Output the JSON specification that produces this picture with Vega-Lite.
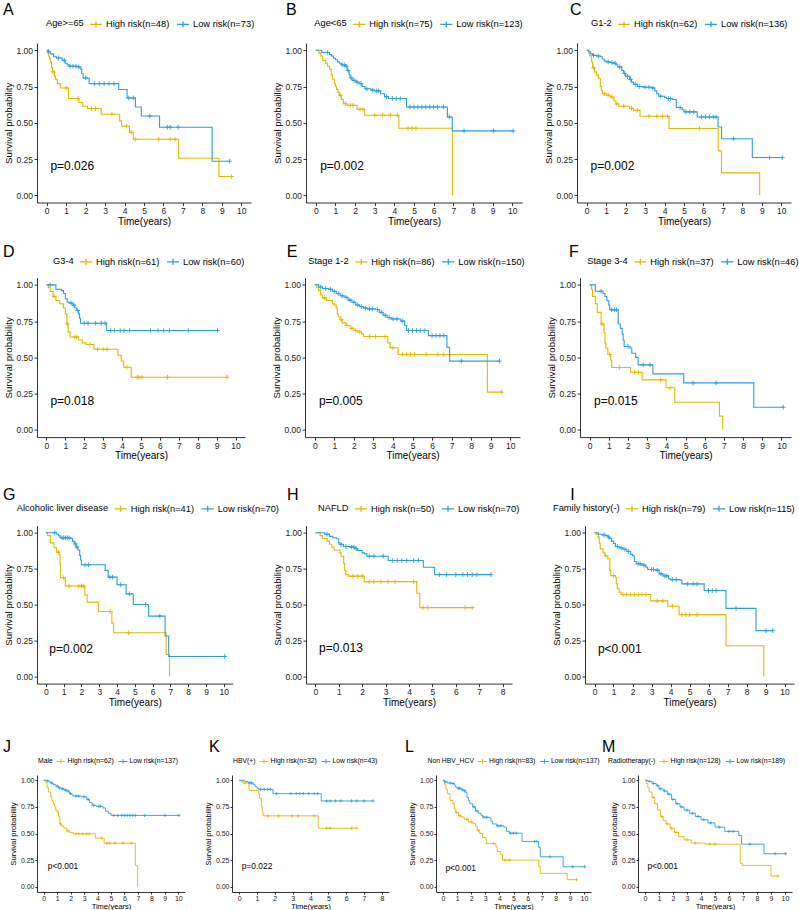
{
"$schema": "https://vega.github.io/schema/vega-lite/v6.json",
"background": "white",
"padding": {"left": 3, "top": 2, "right": 2, "bottom": 0},
"config": {
  "font": "Liberation Sans",
  "view": {"stroke": null},
  "axis": {"grid": false, "domainColor": "#000", "domainWidth": 0.8, "tickColor": "#000", "tickWidth": 0.8, "labelColor": "#1a1a1a", "titleColor": "#000", "titleFontWeight": "normal", "labelFontSize": 8.5, "tickSize": 3},
  "axisX": {"titleFontSize": 10, "labelPadding": 1, "titlePadding": 1},
  "axisY": {"titleFontSize": 9.7, "labelPadding": 1.5, "titlePadding": 2},
  "legend": {"orient": "none", "direction": "horizontal", "titleOrient": "left", "titleAnchor": "middle", "titleBaseline": "middle", "titleFontWeight": "normal", "labelLimit": 0, "titleLimit": 0, "padding": 0, "columnPadding": 4, "labelOffset": 3, "titlePadding": 5, "symbolStrokeWidth": 1.3, "symbolType": "M-1,0H1M0,-0.5V0.5", "symbolSize": 144, "titleColor": "#000", "labelColor": "#000", "labelFontSize": 9.3, "titleFontSize": 9.3},
  "title": {"anchor": "start", "frame": "group", "fontSize": 16, "fontWeight": "normal", "baseline": "alphabetic", "color": "#000"}
},
"datasets": {
"A": [
{"g":"H","t":0,"s":1},{"g":"H","t":0.05,"s":0.98},{"g":"H","t":0.1,"s":0.96},{"g":"H","t":0.15,"s":0.94},{"g":"H","t":0.2,"s":0.92},{"g":"H","t":0.25,"s":0.88},{"g":"H","t":0.3,"s":0.85},{"g":"H","t":0.33,"s":0.85,"c":1},{"g":"H","t":0.4,"s":0.82},{"g":"H","t":0.45,"s":0.8},{"g":"H","t":0.55,"s":0.77},{"g":"H","t":0.7,"s":0.74},{"g":"H","t":1.0,"s":0.74,"c":1},{"g":"H","t":1.12,"s":0.667},{"g":"H","t":1.6,"s":0.667,"c":1},{"g":"H","t":1.65,"s":0.64},{"g":"H","t":1.85,"s":0.614},{"g":"H","t":2.1,"s":0.598},{"g":"H","t":2.3,"s":0.598,"c":1},{"g":"H","t":2.5,"s":0.598,"c":1},{"g":"H","t":2.8,"s":0.559},{"g":"H","t":3.35,"s":0.559,"c":1},{"g":"H","t":3.75,"s":0.513},{"g":"H","t":3.85,"s":0.476},{"g":"H","t":4.1,"s":0.476,"c":1},{"g":"H","t":4.25,"s":0.434},{"g":"H","t":4.35,"s":0.434,"c":1},{"g":"H","t":4.45,"s":0.386},{"g":"H","t":4.55,"s":0.386,"c":1},{"g":"H","t":5.75,"s":0.386,"c":1},{"g":"H","t":6.35,"s":0.386,"c":1},{"g":"H","t":6.6,"s":0.386,"c":1},{"g":"H","t":6.78,"s":0.255},{"g":"H","t":8.85,"s":0.129},{"g":"H","t":9.5,"s":0.129,"c":1},
{"g":"L","t":0,"s":1},{"g":"L","t":0.1,"s":0.99,"c":1},{"g":"L","t":0.2,"s":0.975},{"g":"L","t":0.35,"s":0.955},{"g":"L","t":0.5,"s":0.947},{"g":"L","t":0.6,"s":0.947,"c":1},{"g":"L","t":0.8,"s":0.93},{"g":"L","t":0.9,"s":0.93,"c":1},{"g":"L","t":0.95,"s":0.91},{"g":"L","t":1.05,"s":0.9},{"g":"L","t":1.15,"s":0.89},{"g":"L","t":1.2,"s":0.89,"c":1},{"g":"L","t":1.35,"s":0.89,"c":1},{"g":"L","t":1.5,"s":0.89,"c":1},{"g":"L","t":1.6,"s":0.885},{"g":"L","t":1.65,"s":0.885,"c":1},{"g":"L","t":1.75,"s":0.87},{"g":"L","t":1.8,"s":0.84},{"g":"L","t":1.87,"s":0.809},{"g":"L","t":2.0,"s":0.809,"c":1},{"g":"L","t":2.18,"s":0.77},{"g":"L","t":2.45,"s":0.77,"c":1},{"g":"L","t":2.7,"s":0.77,"c":1},{"g":"L","t":2.95,"s":0.77,"c":1},{"g":"L","t":3.2,"s":0.77,"c":1},{"g":"L","t":3.45,"s":0.77,"c":1},{"g":"L","t":3.7,"s":0.729},{"g":"L","t":4.13,"s":0.671},{"g":"L","t":4.22,"s":0.671,"c":1},{"g":"L","t":4.45,"s":0.671,"c":1},{"g":"L","t":4.56,"s":0.609},{"g":"L","t":4.86,"s":0.547},{"g":"L","t":5.3,"s":0.547,"c":1},{"g":"L","t":5.8,"s":0.469},{"g":"L","t":6.2,"s":0.469,"c":1},{"g":"L","t":6.35,"s":0.469,"c":1},{"g":"L","t":6.75,"s":0.469,"c":1},{"g":"L","t":8.5,"s":0.234},{"g":"L","t":9.4,"s":0.234,"c":1}
],
"B": [
{"g":"H","t":0,"s":1},{"g":"H","t":0.15,"s":0.98},{"g":"H","t":0.25,"s":0.96},{"g":"H","t":0.35,"s":0.93},{"g":"H","t":0.5,"s":0.91},{"g":"H","t":0.6,"s":0.89},{"g":"H","t":0.7,"s":0.87},{"g":"H","t":0.78,"s":0.83},{"g":"H","t":0.85,"s":0.8},{"g":"H","t":0.95,"s":0.77},{"g":"H","t":1.0,"s":0.752},{"g":"H","t":1.05,"s":0.73},{"g":"H","t":1.12,"s":0.71},{"g":"H","t":1.2,"s":0.69},{"g":"H","t":1.25,"s":0.69,"c":1},{"g":"H","t":1.3,"s":0.66},{"g":"H","t":1.4,"s":0.632},{"g":"H","t":1.5,"s":0.632,"c":1},{"g":"H","t":1.6,"s":0.62},{"g":"H","t":1.75,"s":0.62,"c":1},{"g":"H","t":1.9,"s":0.62,"c":1},{"g":"H","t":2.1,"s":0.593},{"g":"H","t":2.25,"s":0.593,"c":1},{"g":"H","t":2.4,"s":0.593,"c":1},{"g":"H","t":2.49,"s":0.552},{"g":"H","t":3.0,"s":0.552,"c":1},{"g":"H","t":3.4,"s":0.552,"c":1},{"g":"H","t":3.8,"s":0.552,"c":1},{"g":"H","t":4.15,"s":0.552,"c":1},{"g":"H","t":4.23,"s":0.462},{"g":"H","t":4.7,"s":0.462,"c":1},{"g":"H","t":4.9,"s":0.462,"c":1},{"g":"H","t":5.1,"s":0.462,"c":1},{"g":"H","t":6.96,"s":0},
{"g":"L","t":0,"s":1},{"g":"L","t":0.3,"s":0.985},{"g":"L","t":0.6,"s":0.985,"c":1},{"g":"L","t":0.7,"s":0.97},{"g":"L","t":0.8,"s":0.96},{"g":"L","t":0.9,"s":0.945},{"g":"L","t":1.0,"s":0.935},{"g":"L","t":1.1,"s":0.92},{"g":"L","t":1.2,"s":0.91},{"g":"L","t":1.3,"s":0.9},{"g":"L","t":1.35,"s":0.9,"c":1},{"g":"L","t":1.45,"s":0.9,"c":1},{"g":"L","t":1.5,"s":0.89},{"g":"L","t":1.55,"s":0.89,"c":1},{"g":"L","t":1.6,"s":0.86},{"g":"L","t":1.65,"s":0.86,"c":1},{"g":"L","t":1.7,"s":0.83},{"g":"L","t":1.75,"s":0.81},{"g":"L","t":1.8,"s":0.81,"c":1},{"g":"L","t":1.85,"s":0.793},{"g":"L","t":1.95,"s":0.793,"c":1},{"g":"L","t":2.05,"s":0.78},{"g":"L","t":2.1,"s":0.78,"c":1},{"g":"L","t":2.2,"s":0.77},{"g":"L","t":2.3,"s":0.77,"c":1},{"g":"L","t":2.35,"s":0.75},{"g":"L","t":2.5,"s":0.735},{"g":"L","t":2.6,"s":0.735,"c":1},{"g":"L","t":2.8,"s":0.725},{"g":"L","t":2.9,"s":0.725,"c":1},{"g":"L","t":3.0,"s":0.72},{"g":"L","t":3.1,"s":0.72,"c":1},{"g":"L","t":3.2,"s":0.72,"c":1},{"g":"L","t":3.3,"s":0.7},{"g":"L","t":3.5,"s":0.68},{"g":"L","t":3.6,"s":0.68,"c":1},{"g":"L","t":3.7,"s":0.667},{"g":"L","t":3.9,"s":0.667,"c":1},{"g":"L","t":4.1,"s":0.667,"c":1},{"g":"L","t":4.3,"s":0.667,"c":1},{"g":"L","t":4.62,"s":0.609},{"g":"L","t":4.8,"s":0.609,"c":1},{"g":"L","t":5.0,"s":0.609,"c":1},{"g":"L","t":5.2,"s":0.609,"c":1},{"g":"L","t":5.4,"s":0.609,"c":1},{"g":"L","t":5.6,"s":0.609,"c":1},{"g":"L","t":5.8,"s":0.609,"c":1},{"g":"L","t":6.0,"s":0.609,"c":1},{"g":"L","t":6.2,"s":0.609,"c":1},{"g":"L","t":6.5,"s":0.609,"c":1},{"g":"L","t":6.7,"s":0.54},{"g":"L","t":6.8,"s":0.54,"c":1},{"g":"L","t":6.95,"s":0.444},{"g":"L","t":7.55,"s":0.444,"c":1},{"g":"L","t":9.05,"s":0.444,"c":1},{"g":"L","t":10.05,"s":0.444,"c":1}
],
"C": [
{"g":"H","t":0,"s":1},{"g":"H","t":0.1,"s":0.98},{"g":"H","t":0.15,"s":0.96},{"g":"H","t":0.25,"s":0.92},{"g":"H","t":0.3,"s":0.88},{"g":"H","t":0.35,"s":0.88,"c":1},{"g":"H","t":0.4,"s":0.851},{"g":"H","t":0.5,"s":0.83},{"g":"H","t":0.6,"s":0.805},{"g":"H","t":0.7,"s":0.75},{"g":"H","t":0.75,"s":0.724},{"g":"H","t":0.8,"s":0.7},{"g":"H","t":0.9,"s":0.7,"c":1},{"g":"H","t":1.0,"s":0.69},{"g":"H","t":1.1,"s":0.69,"c":1},{"g":"H","t":1.2,"s":0.678},{"g":"H","t":1.3,"s":0.678,"c":1},{"g":"H","t":1.4,"s":0.65},{"g":"H","t":1.5,"s":0.63},{"g":"H","t":1.55,"s":0.63,"c":1},{"g":"H","t":1.65,"s":0.614},{"g":"H","t":1.9,"s":0.614,"c":1},{"g":"H","t":2.2,"s":0.6},{"g":"H","t":2.3,"s":0.6,"c":1},{"g":"H","t":2.4,"s":0.586},{"g":"H","t":2.6,"s":0.586,"c":1},{"g":"H","t":2.74,"s":0.545},{"g":"H","t":3.2,"s":0.545,"c":1},{"g":"H","t":3.6,"s":0.545,"c":1},{"g":"H","t":3.9,"s":0.545,"c":1},{"g":"H","t":4.15,"s":0.545,"c":1},{"g":"H","t":4.23,"s":0.46},{"g":"H","t":5.8,"s":0.46,"c":1},{"g":"H","t":6.76,"s":0.306},{"g":"H","t":6.93,"s":0.154},{"g":"H","t":8.89,"s":0},
{"g":"L","t":0,"s":1},{"g":"L","t":0.1,"s":0.99},{"g":"L","t":0.2,"s":0.975},{"g":"L","t":0.3,"s":0.965},{"g":"L","t":0.35,"s":0.965,"c":1},{"g":"L","t":0.5,"s":0.96},{"g":"L","t":0.6,"s":0.96,"c":1},{"g":"L","t":0.7,"s":0.955},{"g":"L","t":0.8,"s":0.94},{"g":"L","t":0.9,"s":0.925},{"g":"L","t":1.0,"s":0.92},{"g":"L","t":1.1,"s":0.92,"c":1},{"g":"L","t":1.2,"s":0.915},{"g":"L","t":1.3,"s":0.915,"c":1},{"g":"L","t":1.4,"s":0.91},{"g":"L","t":1.45,"s":0.91,"c":1},{"g":"L","t":1.5,"s":0.9},{"g":"L","t":1.6,"s":0.885},{"g":"L","t":1.7,"s":0.885,"c":1},{"g":"L","t":1.8,"s":0.86},{"g":"L","t":1.9,"s":0.84},{"g":"L","t":1.95,"s":0.84,"c":1},{"g":"L","t":2.0,"s":0.82},{"g":"L","t":2.1,"s":0.82,"c":1},{"g":"L","t":2.2,"s":0.8},{"g":"L","t":2.25,"s":0.8,"c":1},{"g":"L","t":2.3,"s":0.78},{"g":"L","t":2.4,"s":0.765},{"g":"L","t":2.5,"s":0.765,"c":1},{"g":"L","t":2.6,"s":0.75},{"g":"L","t":2.7,"s":0.75,"c":1},{"g":"L","t":2.9,"s":0.745},{"g":"L","t":3.0,"s":0.745,"c":1},{"g":"L","t":3.2,"s":0.745,"c":1},{"g":"L","t":3.35,"s":0.74},{"g":"L","t":3.4,"s":0.74,"c":1},{"g":"L","t":3.5,"s":0.72},{"g":"L","t":3.6,"s":0.7},{"g":"L","t":3.7,"s":0.683},{"g":"L","t":3.8,"s":0.683,"c":1},{"g":"L","t":4.0,"s":0.675},{"g":"L","t":4.1,"s":0.667},{"g":"L","t":4.2,"s":0.667,"c":1},{"g":"L","t":4.3,"s":0.667,"c":1},{"g":"L","t":4.4,"s":0.66},{"g":"L","t":4.6,"s":0.605},{"g":"L","t":4.8,"s":0.605,"c":1},{"g":"L","t":4.9,"s":0.59},{"g":"L","t":5.0,"s":0.575},{"g":"L","t":5.1,"s":0.575,"c":1},{"g":"L","t":5.3,"s":0.575,"c":1},{"g":"L","t":5.5,"s":0.575,"c":1},{"g":"L","t":5.68,"s":0.54},{"g":"L","t":5.9,"s":0.54,"c":1},{"g":"L","t":6.1,"s":0.54,"c":1},{"g":"L","t":6.3,"s":0.54,"c":1},{"g":"L","t":6.5,"s":0.54,"c":1},{"g":"L","t":6.65,"s":0.54,"c":1},{"g":"L","t":6.75,"s":0.471},{"g":"L","t":6.93,"s":0.39},{"g":"L","t":7.55,"s":0.39,"c":1},{"g":"L","t":8.51,"s":0.26},{"g":"L","t":9.4,"s":0.26,"c":1},{"g":"L","t":10.05,"s":0.26,"c":1}
],
"D": [
{"g":"H","t":0,"s":1},{"g":"H","t":0.1,"s":0.98},{"g":"H","t":0.2,"s":0.954},{"g":"H","t":0.35,"s":0.92},{"g":"H","t":0.4,"s":0.92,"c":1},{"g":"H","t":0.5,"s":0.892},{"g":"H","t":0.7,"s":0.87},{"g":"H","t":0.9,"s":0.84},{"g":"H","t":1.0,"s":0.8},{"g":"H","t":1.08,"s":0.731},{"g":"H","t":1.11,"s":0.731,"c":1},{"g":"H","t":1.15,"s":0.674},{"g":"H","t":1.25,"s":0.64},{"g":"H","t":1.5,"s":0.64,"c":1},{"g":"H","t":1.6,"s":0.64,"c":1},{"g":"H","t":1.7,"s":0.62},{"g":"H","t":1.9,"s":0.6},{"g":"H","t":2.1,"s":0.589},{"g":"H","t":2.3,"s":0.589,"c":1},{"g":"H","t":2.51,"s":0.556},{"g":"H","t":2.7,"s":0.556,"c":1},{"g":"H","t":3.0,"s":0.556,"c":1},{"g":"H","t":3.2,"s":0.556,"c":1},{"g":"H","t":3.78,"s":0.515},{"g":"H","t":3.95,"s":0.474},{"g":"H","t":4.08,"s":0.432},{"g":"H","t":4.25,"s":0.432,"c":1},{"g":"H","t":4.48,"s":0.363},{"g":"H","t":4.8,"s":0.363,"c":1},{"g":"H","t":4.9,"s":0.363,"c":1},{"g":"H","t":5.05,"s":0.363,"c":1},{"g":"H","t":6.4,"s":0.363,"c":1},{"g":"H","t":9.55,"s":0.363,"c":1},
{"g":"L","t":0,"s":1},{"g":"L","t":0.2,"s":1,"c":1},{"g":"L","t":0.5,"s":0.97},{"g":"L","t":0.8,"s":0.96},{"g":"L","t":0.9,"s":0.94},{"g":"L","t":1.0,"s":0.903},{"g":"L","t":1.1,"s":0.88},{"g":"L","t":1.2,"s":0.874},{"g":"L","t":1.3,"s":0.874,"c":1},{"g":"L","t":1.4,"s":0.86},{"g":"L","t":1.45,"s":0.86,"c":1},{"g":"L","t":1.5,"s":0.84},{"g":"L","t":1.6,"s":0.823},{"g":"L","t":1.65,"s":0.823,"c":1},{"g":"L","t":1.7,"s":0.8},{"g":"L","t":1.75,"s":0.77},{"g":"L","t":1.8,"s":0.735},{"g":"L","t":2.0,"s":0.735,"c":1},{"g":"L","t":2.2,"s":0.735,"c":1},{"g":"L","t":2.6,"s":0.735,"c":1},{"g":"L","t":2.9,"s":0.735,"c":1},{"g":"L","t":3.1,"s":0.735,"c":1},{"g":"L","t":3.17,"s":0.685},{"g":"L","t":3.4,"s":0.685,"c":1},{"g":"L","t":3.6,"s":0.685,"c":1},{"g":"L","t":3.9,"s":0.685,"c":1},{"g":"L","t":4.1,"s":0.685,"c":1},{"g":"L","t":4.4,"s":0.685,"c":1},{"g":"L","t":5.5,"s":0.685,"c":1},{"g":"L","t":5.9,"s":0.685,"c":1},{"g":"L","t":6.2,"s":0.685,"c":1},{"g":"L","t":6.5,"s":0.685,"c":1},{"g":"L","t":7.5,"s":0.685,"c":1},{"g":"L","t":9.05,"s":0.685,"c":1}
],
"E": [
{"g":"H","t":0,"s":1},{"g":"H","t":0.1,"s":0.98},{"g":"H","t":0.2,"s":0.96},{"g":"H","t":0.3,"s":0.93},{"g":"H","t":0.4,"s":0.91},{"g":"H","t":0.5,"s":0.91,"c":1},{"g":"H","t":0.6,"s":0.892},{"g":"H","t":0.9,"s":0.87},{"g":"H","t":1.0,"s":0.86},{"g":"H","t":1.1,"s":0.84},{"g":"H","t":1.15,"s":0.8},{"g":"H","t":1.2,"s":0.78},{"g":"H","t":1.3,"s":0.76},{"g":"H","t":1.35,"s":0.76,"c":1},{"g":"H","t":1.4,"s":0.738},{"g":"H","t":1.6,"s":0.72},{"g":"H","t":1.65,"s":0.72,"c":1},{"g":"H","t":1.8,"s":0.7},{"g":"H","t":1.9,"s":0.7,"c":1},{"g":"H","t":2.0,"s":0.685},{"g":"H","t":2.1,"s":0.685,"c":1},{"g":"H","t":2.2,"s":0.675},{"g":"H","t":2.3,"s":0.675,"c":1},{"g":"H","t":2.4,"s":0.66},{"g":"H","t":2.5,"s":0.644},{"g":"H","t":2.8,"s":0.644,"c":1},{"g":"H","t":3.1,"s":0.644,"c":1},{"g":"H","t":3.6,"s":0.644,"c":1},{"g":"H","t":3.74,"s":0.6},{"g":"H","t":3.85,"s":0.566},{"g":"H","t":4.0,"s":0.566,"c":1},{"g":"H","t":4.26,"s":0.52},{"g":"H","t":4.5,"s":0.52,"c":1},{"g":"H","t":4.7,"s":0.52,"c":1},{"g":"H","t":4.9,"s":0.52,"c":1},{"g":"H","t":5.1,"s":0.52,"c":1},{"g":"H","t":5.7,"s":0.52,"c":1},{"g":"H","t":6.3,"s":0.52,"c":1},{"g":"H","t":6.6,"s":0.52,"c":1},{"g":"H","t":8.83,"s":0.26},{"g":"H","t":9.55,"s":0.26,"c":1},
{"g":"L","t":0,"s":1},{"g":"L","t":0.2,"s":0.985},{"g":"L","t":0.3,"s":0.985,"c":1},{"g":"L","t":0.4,"s":0.975},{"g":"L","t":0.55,"s":0.975,"c":1},{"g":"L","t":0.7,"s":0.97},{"g":"L","t":0.8,"s":0.97,"c":1},{"g":"L","t":0.9,"s":0.955},{"g":"L","t":1.0,"s":0.955,"c":1},{"g":"L","t":1.1,"s":0.94},{"g":"L","t":1.2,"s":0.94,"c":1},{"g":"L","t":1.3,"s":0.925},{"g":"L","t":1.4,"s":0.925,"c":1},{"g":"L","t":1.5,"s":0.914},{"g":"L","t":1.6,"s":0.914,"c":1},{"g":"L","t":1.7,"s":0.895},{"g":"L","t":1.8,"s":0.895,"c":1},{"g":"L","t":1.9,"s":0.88},{"g":"L","t":2.0,"s":0.88,"c":1},{"g":"L","t":2.1,"s":0.86},{"g":"L","t":2.2,"s":0.86,"c":1},{"g":"L","t":2.3,"s":0.85},{"g":"L","t":2.4,"s":0.85,"c":1},{"g":"L","t":2.5,"s":0.84},{"g":"L","t":2.6,"s":0.84,"c":1},{"g":"L","t":2.7,"s":0.834},{"g":"L","t":2.8,"s":0.834,"c":1},{"g":"L","t":2.95,"s":0.834,"c":1},{"g":"L","t":3.1,"s":0.83},{"g":"L","t":3.2,"s":0.83,"c":1},{"g":"L","t":3.3,"s":0.81},{"g":"L","t":3.4,"s":0.81,"c":1},{"g":"L","t":3.5,"s":0.79},{"g":"L","t":3.6,"s":0.79,"c":1},{"g":"L","t":3.7,"s":0.775},{"g":"L","t":3.8,"s":0.775,"c":1},{"g":"L","t":3.9,"s":0.765},{"g":"L","t":4.0,"s":0.765,"c":1},{"g":"L","t":4.2,"s":0.765,"c":1},{"g":"L","t":4.4,"s":0.75},{"g":"L","t":4.5,"s":0.75,"c":1},{"g":"L","t":4.6,"s":0.72},{"g":"L","t":4.7,"s":0.685},{"g":"L","t":4.8,"s":0.685,"c":1},{"g":"L","t":5.0,"s":0.685,"c":1},{"g":"L","t":5.2,"s":0.685,"c":1},{"g":"L","t":5.4,"s":0.685,"c":1},{"g":"L","t":5.6,"s":0.685,"c":1},{"g":"L","t":5.81,"s":0.65},{"g":"L","t":6.0,"s":0.65,"c":1},{"g":"L","t":6.2,"s":0.65,"c":1},{"g":"L","t":6.4,"s":0.65,"c":1},{"g":"L","t":6.6,"s":0.65,"c":1},{"g":"L","t":6.76,"s":0.57},{"g":"L","t":6.9,"s":0.474},{"g":"L","t":7.5,"s":0.474,"c":1},{"g":"L","t":9.45,"s":0.474,"c":1}
],
"F": [
{"g":"H","t":0,"s":1},{"g":"H","t":0.1,"s":0.97},{"g":"H","t":0.15,"s":0.92},{"g":"H","t":0.3,"s":0.87},{"g":"H","t":0.4,"s":0.81},{"g":"H","t":0.6,"s":0.73},{"g":"H","t":0.65,"s":0.73,"c":1},{"g":"H","t":0.75,"s":0.67},{"g":"H","t":0.8,"s":0.6},{"g":"H","t":0.85,"s":0.563},{"g":"H","t":0.95,"s":0.52},{"g":"H","t":1.05,"s":0.52,"c":1},{"g":"H","t":1.1,"s":0.48},{"g":"H","t":1.15,"s":0.43},{"g":"H","t":1.55,"s":0.43,"c":1},{"g":"H","t":2.14,"s":0.397},{"g":"H","t":2.35,"s":0.397,"c":1},{"g":"H","t":2.55,"s":0.397,"c":1},{"g":"H","t":2.74,"s":0.345},{"g":"H","t":3.7,"s":0.345,"c":1},{"g":"H","t":3.99,"s":0.29},{"g":"H","t":4.2,"s":0.29,"c":1},{"g":"H","t":4.44,"s":0.19},{"g":"H","t":6.77,"s":0.095},{"g":"H","t":6.94,"s":0},
{"g":"L","t":0,"s":1},{"g":"L","t":0.3,"s":0.956},{"g":"L","t":0.6,"s":0.956,"c":1},{"g":"L","t":0.7,"s":0.94},{"g":"L","t":0.8,"s":0.92},{"g":"L","t":0.9,"s":0.89},{"g":"L","t":1.0,"s":0.86},{"g":"L","t":1.05,"s":0.828},{"g":"L","t":1.15,"s":0.828,"c":1},{"g":"L","t":1.3,"s":0.828,"c":1},{"g":"L","t":1.4,"s":0.828,"c":1},{"g":"L","t":1.49,"s":0.73},{"g":"L","t":1.6,"s":0.7},{"g":"L","t":1.7,"s":0.66},{"g":"L","t":1.75,"s":0.62},{"g":"L","t":1.8,"s":0.575},{"g":"L","t":2.0,"s":0.575,"c":1},{"g":"L","t":2.1,"s":0.565},{"g":"L","t":2.2,"s":0.528},{"g":"L","t":2.4,"s":0.5},{"g":"L","t":2.53,"s":0.448},{"g":"L","t":2.8,"s":0.448,"c":1},{"g":"L","t":3.15,"s":0.448,"c":1},{"g":"L","t":3.3,"s":0.386},{"g":"L","t":4.91,"s":0.324},{"g":"L","t":5.4,"s":0.324,"c":1},{"g":"L","t":6.6,"s":0.324,"c":1},{"g":"L","t":8.56,"s":0.156},{"g":"L","t":10.1,"s":0.156,"c":1}
],
"G": [
{"g":"H","t":0,"s":1},{"g":"H","t":0.1,"s":0.98},{"g":"H","t":0.25,"s":0.93},{"g":"H","t":0.45,"s":0.896},{"g":"H","t":0.6,"s":0.865},{"g":"H","t":0.7,"s":0.865,"c":1},{"g":"H","t":0.75,"s":0.847},{"g":"H","t":0.8,"s":0.78},{"g":"H","t":0.82,"s":0.687},{"g":"H","t":1.0,"s":0.687,"c":1},{"g":"H","t":1.09,"s":0.629},{"g":"H","t":1.3,"s":0.629,"c":1},{"g":"H","t":1.85,"s":0.629,"c":1},{"g":"H","t":2.0,"s":0.629,"c":1},{"g":"H","t":2.1,"s":0.629,"c":1},{"g":"H","t":2.19,"s":0.568},{"g":"H","t":2.32,"s":0.517},{"g":"H","t":2.95,"s":0.452},{"g":"H","t":3.6,"s":0.452,"c":1},{"g":"H","t":3.71,"s":0.371},{"g":"H","t":3.81,"s":0.304},{"g":"H","t":4.65,"s":0.304,"c":1},{"g":"H","t":6.76,"s":0.153},{"g":"H","t":6.95,"s":0},
{"g":"L","t":0,"s":1},{"g":"L","t":0.5,"s":1,"c":1},{"g":"L","t":0.6,"s":0.99},{"g":"L","t":0.7,"s":0.98},{"g":"L","t":0.8,"s":0.965},{"g":"L","t":0.9,"s":0.965,"c":1},{"g":"L","t":1.0,"s":0.965,"c":1},{"g":"L","t":1.1,"s":0.965,"c":1},{"g":"L","t":1.2,"s":0.965,"c":1},{"g":"L","t":1.3,"s":0.965,"c":1},{"g":"L","t":1.4,"s":0.96},{"g":"L","t":1.5,"s":0.94},{"g":"L","t":1.6,"s":0.923},{"g":"L","t":1.65,"s":0.923,"c":1},{"g":"L","t":1.7,"s":0.9},{"g":"L","t":1.75,"s":0.9,"c":1},{"g":"L","t":1.8,"s":0.88},{"g":"L","t":1.9,"s":0.842},{"g":"L","t":1.95,"s":0.81},{"g":"L","t":2.0,"s":0.777},{"g":"L","t":2.2,"s":0.777,"c":1},{"g":"L","t":2.4,"s":0.777,"c":1},{"g":"L","t":3.33,"s":0.738},{"g":"L","t":3.5,"s":0.691},{"g":"L","t":3.6,"s":0.691,"c":1},{"g":"L","t":3.75,"s":0.691,"c":1},{"g":"L","t":4.0,"s":0.638},{"g":"L","t":4.2,"s":0.638,"c":1},{"g":"L","t":4.51,"s":0.575},{"g":"L","t":4.7,"s":0.575,"c":1},{"g":"L","t":4.91,"s":0.501},{"g":"L","t":5.6,"s":0.501,"c":1},{"g":"L","t":5.77,"s":0.42},{"g":"L","t":6.4,"s":0.42,"c":1},{"g":"L","t":6.7,"s":0.281},{"g":"L","t":6.9,"s":0.139},{"g":"L","t":10.05,"s":0.139,"c":1}
],
"H": [
{"g":"H","t":0,"s":1},{"g":"H","t":0.2,"s":0.98},{"g":"H","t":0.3,"s":0.96},{"g":"H","t":0.5,"s":0.942},{"g":"H","t":0.6,"s":0.92},{"g":"H","t":0.7,"s":0.9},{"g":"H","t":0.8,"s":0.88},{"g":"H","t":1.05,"s":0.86},{"g":"H","t":1.1,"s":0.837},{"g":"H","t":1.21,"s":0.788},{"g":"H","t":1.25,"s":0.737},{"g":"H","t":1.3,"s":0.709},{"g":"H","t":1.4,"s":0.698},{"g":"H","t":1.6,"s":0.698,"c":1},{"g":"H","t":1.8,"s":0.698,"c":1},{"g":"H","t":2.0,"s":0.698,"c":1},{"g":"H","t":2.09,"s":0.66},{"g":"H","t":2.3,"s":0.66,"c":1},{"g":"H","t":2.5,"s":0.66,"c":1},{"g":"H","t":2.8,"s":0.66,"c":1},{"g":"H","t":3.1,"s":0.66,"c":1},{"g":"H","t":3.4,"s":0.66,"c":1},{"g":"H","t":4.2,"s":0.66,"c":1},{"g":"H","t":4.33,"s":0.579},{"g":"H","t":4.46,"s":0.479},{"g":"H","t":4.6,"s":0.479,"c":1},{"g":"H","t":4.8,"s":0.479,"c":1},{"g":"H","t":6.4,"s":0.479,"c":1},{"g":"H","t":6.7,"s":0.479,"c":1},
{"g":"L","t":0,"s":1},{"g":"L","t":0.4,"s":0.99},{"g":"L","t":0.5,"s":0.99,"c":1},{"g":"L","t":0.6,"s":0.975},{"g":"L","t":0.75,"s":0.965},{"g":"L","t":0.9,"s":0.958},{"g":"L","t":1.0,"s":0.93},{"g":"L","t":1.05,"s":0.919},{"g":"L","t":1.1,"s":0.919,"c":1},{"g":"L","t":1.2,"s":0.905},{"g":"L","t":1.3,"s":0.905,"c":1},{"g":"L","t":1.5,"s":0.9},{"g":"L","t":1.55,"s":0.9,"c":1},{"g":"L","t":1.65,"s":0.9,"c":1},{"g":"L","t":1.7,"s":0.89},{"g":"L","t":1.75,"s":0.89,"c":1},{"g":"L","t":1.8,"s":0.877},{"g":"L","t":2.0,"s":0.86},{"g":"L","t":2.1,"s":0.853},{"g":"L","t":2.2,"s":0.837},{"g":"L","t":2.3,"s":0.837,"c":1},{"g":"L","t":2.5,"s":0.837,"c":1},{"g":"L","t":2.9,"s":0.837,"c":1},{"g":"L","t":3.11,"s":0.807},{"g":"L","t":3.3,"s":0.807,"c":1},{"g":"L","t":3.5,"s":0.807,"c":1},{"g":"L","t":3.7,"s":0.807,"c":1},{"g":"L","t":3.9,"s":0.807,"c":1},{"g":"L","t":4.2,"s":0.807,"c":1},{"g":"L","t":4.4,"s":0.807,"c":1},{"g":"L","t":4.61,"s":0.76},{"g":"L","t":5.09,"s":0.709},{"g":"L","t":5.3,"s":0.709,"c":1},{"g":"L","t":5.6,"s":0.709,"c":1},{"g":"L","t":6.0,"s":0.709,"c":1},{"g":"L","t":6.3,"s":0.709,"c":1},{"g":"L","t":6.5,"s":0.709,"c":1},{"g":"L","t":6.7,"s":0.709,"c":1},{"g":"L","t":6.9,"s":0.709,"c":1},{"g":"L","t":7.5,"s":0.709,"c":1}
],
"I": [
{"g":"H","t":0,"s":1},{"g":"H","t":0.1,"s":0.99},{"g":"H","t":0.2,"s":0.97},{"g":"H","t":0.25,"s":0.928},{"g":"H","t":0.3,"s":0.888},{"g":"H","t":0.45,"s":0.86},{"g":"H","t":0.55,"s":0.84},{"g":"H","t":0.6,"s":0.84,"c":1},{"g":"H","t":0.7,"s":0.819},{"g":"H","t":0.81,"s":0.737},{"g":"H","t":0.85,"s":0.702},{"g":"H","t":1.0,"s":0.702,"c":1},{"g":"H","t":1.1,"s":0.69},{"g":"H","t":1.15,"s":0.644},{"g":"H","t":1.2,"s":0.61},{"g":"H","t":1.3,"s":0.586},{"g":"H","t":1.4,"s":0.57},{"g":"H","t":1.5,"s":0.57,"c":1},{"g":"H","t":1.7,"s":0.57,"c":1},{"g":"H","t":1.9,"s":0.57,"c":1},{"g":"H","t":2.1,"s":0.57,"c":1},{"g":"H","t":2.3,"s":0.57,"c":1},{"g":"H","t":2.5,"s":0.57,"c":1},{"g":"H","t":2.7,"s":0.57,"c":1},{"g":"H","t":2.96,"s":0.526},{"g":"H","t":3.3,"s":0.526,"c":1},{"g":"H","t":3.6,"s":0.526,"c":1},{"g":"H","t":3.86,"s":0.488},{"g":"H","t":4.1,"s":0.488,"c":1},{"g":"H","t":4.45,"s":0.43},{"g":"H","t":4.6,"s":0.43,"c":1},{"g":"H","t":4.8,"s":0.43,"c":1},{"g":"H","t":5.0,"s":0.43,"c":1},{"g":"H","t":5.4,"s":0.43,"c":1},{"g":"H","t":6.92,"s":0.214},{"g":"H","t":8.91,"s":0},
{"g":"L","t":0,"s":1},{"g":"L","t":0.2,"s":0.99},{"g":"L","t":0.4,"s":0.985},{"g":"L","t":0.5,"s":0.985,"c":1},{"g":"L","t":0.6,"s":0.98},{"g":"L","t":0.7,"s":0.97},{"g":"L","t":0.75,"s":0.97,"c":1},{"g":"L","t":0.8,"s":0.96},{"g":"L","t":0.9,"s":0.94},{"g":"L","t":1.0,"s":0.925},{"g":"L","t":1.1,"s":0.905},{"g":"L","t":1.2,"s":0.905,"c":1},{"g":"L","t":1.3,"s":0.895},{"g":"L","t":1.4,"s":0.895,"c":1},{"g":"L","t":1.5,"s":0.885},{"g":"L","t":1.6,"s":0.885,"c":1},{"g":"L","t":1.7,"s":0.87},{"g":"L","t":1.8,"s":0.87,"c":1},{"g":"L","t":1.9,"s":0.85},{"g":"L","t":2.0,"s":0.84},{"g":"L","t":2.1,"s":0.8},{"g":"L","t":2.2,"s":0.784},{"g":"L","t":2.3,"s":0.784,"c":1},{"g":"L","t":2.4,"s":0.784,"c":1},{"g":"L","t":2.5,"s":0.775},{"g":"L","t":2.6,"s":0.775,"c":1},{"g":"L","t":2.7,"s":0.76},{"g":"L","t":2.8,"s":0.744},{"g":"L","t":3.0,"s":0.744,"c":1},{"g":"L","t":3.1,"s":0.744,"c":1},{"g":"L","t":3.2,"s":0.74},{"g":"L","t":3.3,"s":0.74,"c":1},{"g":"L","t":3.4,"s":0.714},{"g":"L","t":3.5,"s":0.714,"c":1},{"g":"L","t":3.6,"s":0.7},{"g":"L","t":3.7,"s":0.7,"c":1},{"g":"L","t":3.8,"s":0.7,"c":1},{"g":"L","t":3.9,"s":0.68},{"g":"L","t":4.0,"s":0.674},{"g":"L","t":4.1,"s":0.674,"c":1},{"g":"L","t":4.3,"s":0.674,"c":1},{"g":"L","t":4.5,"s":0.67},{"g":"L","t":4.6,"s":0.644},{"g":"L","t":4.9,"s":0.644,"c":1},{"g":"L","t":5.2,"s":0.644,"c":1},{"g":"L","t":5.4,"s":0.644,"c":1},{"g":"L","t":5.77,"s":0.598},{"g":"L","t":6.0,"s":0.598,"c":1},{"g":"L","t":6.2,"s":0.598,"c":1},{"g":"L","t":6.4,"s":0.598,"c":1},{"g":"L","t":6.92,"s":0.474},{"g":"L","t":7.45,"s":0.474,"c":1},{"g":"L","t":8.5,"s":0.319},{"g":"L","t":9.03,"s":0.319,"c":1},{"g":"L","t":9.38,"s":0.319,"c":1}
],
"J": [
{"g":"H","t":0,"s":1},{"g":"H","t":0.15,"s":0.98},{"g":"H","t":0.25,"s":0.93},{"g":"H","t":0.35,"s":0.89},{"g":"H","t":0.5,"s":0.85},{"g":"H","t":0.6,"s":0.81},{"g":"H","t":0.7,"s":0.78},{"g":"H","t":0.8,"s":0.75},{"g":"H","t":0.9,"s":0.717},{"g":"H","t":1.0,"s":0.7},{"g":"H","t":1.1,"s":0.66},{"g":"H","t":1.2,"s":0.591},{"g":"H","t":1.25,"s":0.591,"c":1},{"g":"H","t":1.3,"s":0.57},{"g":"H","t":1.5,"s":0.55},{"g":"H","t":1.7,"s":0.525},{"g":"H","t":1.8,"s":0.525,"c":1},{"g":"H","t":1.9,"s":0.51},{"g":"H","t":2.2,"s":0.497},{"g":"H","t":2.4,"s":0.497,"c":1},{"g":"H","t":2.6,"s":0.497,"c":1},{"g":"H","t":2.9,"s":0.497,"c":1},{"g":"H","t":3.2,"s":0.497,"c":1},{"g":"H","t":3.4,"s":0.497,"c":1},{"g":"H","t":3.84,"s":0.456},{"g":"H","t":4.3,"s":0.456,"c":1},{"g":"H","t":4.49,"s":0.409},{"g":"H","t":4.7,"s":0.409,"c":1},{"g":"H","t":4.9,"s":0.409,"c":1},{"g":"H","t":5.3,"s":0.409,"c":1},{"g":"H","t":5.9,"s":0.409,"c":1},{"g":"H","t":6.5,"s":0.409,"c":1},{"g":"H","t":6.81,"s":0.198},{"g":"H","t":6.98,"s":0},
{"g":"L","t":0,"s":1},{"g":"L","t":0.2,"s":0.995},{"g":"L","t":0.3,"s":0.995,"c":1},{"g":"L","t":0.4,"s":0.985},{"g":"L","t":0.5,"s":0.975},{"g":"L","t":0.6,"s":0.975,"c":1},{"g":"L","t":0.7,"s":0.96},{"g":"L","t":0.9,"s":0.945},{"g":"L","t":1.0,"s":0.945,"c":1},{"g":"L","t":1.1,"s":0.928},{"g":"L","t":1.2,"s":0.928,"c":1},{"g":"L","t":1.3,"s":0.92},{"g":"L","t":1.4,"s":0.92,"c":1},{"g":"L","t":1.5,"s":0.91},{"g":"L","t":1.6,"s":0.91,"c":1},{"g":"L","t":1.7,"s":0.9},{"g":"L","t":1.8,"s":0.9,"c":1},{"g":"L","t":1.9,"s":0.875},{"g":"L","t":2.0,"s":0.875,"c":1},{"g":"L","t":2.1,"s":0.86},{"g":"L","t":2.2,"s":0.852},{"g":"L","t":2.4,"s":0.852,"c":1},{"g":"L","t":2.6,"s":0.852,"c":1},{"g":"L","t":2.8,"s":0.845},{"g":"L","t":3.0,"s":0.845,"c":1},{"g":"L","t":3.2,"s":0.82},{"g":"L","t":3.3,"s":0.82,"c":1},{"g":"L","t":3.4,"s":0.79},{"g":"L","t":3.6,"s":0.765},{"g":"L","t":3.7,"s":0.765,"c":1},{"g":"L","t":3.9,"s":0.755},{"g":"L","t":4.1,"s":0.755,"c":1},{"g":"L","t":4.2,"s":0.755,"c":1},{"g":"L","t":4.4,"s":0.74},{"g":"L","t":4.6,"s":0.71},{"g":"L","t":4.8,"s":0.69},{"g":"L","t":5.0,"s":0.67},{"g":"L","t":5.2,"s":0.67,"c":1},{"g":"L","t":5.5,"s":0.67,"c":1},{"g":"L","t":5.8,"s":0.67,"c":1},{"g":"L","t":6.0,"s":0.67,"c":1},{"g":"L","t":6.2,"s":0.67,"c":1},{"g":"L","t":6.4,"s":0.67,"c":1},{"g":"L","t":6.6,"s":0.67,"c":1},{"g":"L","t":6.8,"s":0.67,"c":1},{"g":"L","t":7.5,"s":0.67,"c":1},{"g":"L","t":9.0,"s":0.67,"c":1},{"g":"L","t":10.05,"s":0.67,"c":1}
],
"K": [
{"g":"H","t":0,"s":1},{"g":"H","t":0.1,"s":0.99},{"g":"H","t":0.2,"s":0.975},{"g":"H","t":0.35,"s":0.975,"c":1},{"g":"H","t":0.55,"s":0.905},{"g":"H","t":1.1,"s":0.87},{"g":"H","t":1.15,"s":0.831},{"g":"H","t":1.25,"s":0.75},{"g":"H","t":1.3,"s":0.697},{"g":"H","t":1.35,"s":0.666},{"g":"H","t":1.6,"s":0.666,"c":1},{"g":"H","t":2.2,"s":0.666,"c":1},{"g":"H","t":2.95,"s":0.666,"c":1},{"g":"H","t":3.3,"s":0.666,"c":1},{"g":"H","t":4.2,"s":0.666,"c":1},{"g":"H","t":4.43,"s":0.55},{"g":"H","t":4.9,"s":0.55,"c":1},{"g":"H","t":5.1,"s":0.55,"c":1},{"g":"H","t":6.3,"s":0.55,"c":1},{"g":"H","t":6.6,"s":0.55,"c":1},
{"g":"L","t":0,"s":1},{"g":"L","t":0.3,"s":0.99},{"g":"L","t":0.5,"s":0.975},{"g":"L","t":0.6,"s":0.975,"c":1},{"g":"L","t":0.7,"s":0.975,"c":1},{"g":"L","t":0.8,"s":0.96},{"g":"L","t":0.9,"s":0.94},{"g":"L","t":1.0,"s":0.925},{"g":"L","t":1.1,"s":0.915},{"g":"L","t":1.2,"s":0.915,"c":1},{"g":"L","t":1.4,"s":0.915,"c":1},{"g":"L","t":1.6,"s":0.915,"c":1},{"g":"L","t":1.75,"s":0.915,"c":1},{"g":"L","t":1.9,"s":0.875},{"g":"L","t":2.1,"s":0.875,"c":1},{"g":"L","t":2.9,"s":0.875,"c":1},{"g":"L","t":3.2,"s":0.875,"c":1},{"g":"L","t":3.4,"s":0.875,"c":1},{"g":"L","t":3.6,"s":0.875,"c":1},{"g":"L","t":3.9,"s":0.875,"c":1},{"g":"L","t":4.2,"s":0.875,"c":1},{"g":"L","t":4.4,"s":0.875,"c":1},{"g":"L","t":4.6,"s":0.806},{"g":"L","t":4.9,"s":0.806,"c":1},{"g":"L","t":5.1,"s":0.806,"c":1},{"g":"L","t":5.4,"s":0.806,"c":1},{"g":"L","t":5.7,"s":0.806,"c":1},{"g":"L","t":6.3,"s":0.806,"c":1},{"g":"L","t":6.6,"s":0.806,"c":1},{"g":"L","t":7.0,"s":0.806,"c":1},{"g":"L","t":7.5,"s":0.806,"c":1}
],
"L": [
{"g":"H","t":0,"s":1},{"g":"H","t":0.1,"s":0.96},{"g":"H","t":0.2,"s":0.916},{"g":"H","t":0.3,"s":0.875},{"g":"H","t":0.5,"s":0.81},{"g":"H","t":0.7,"s":0.78},{"g":"H","t":0.8,"s":0.73},{"g":"H","t":0.9,"s":0.697},{"g":"H","t":0.95,"s":0.697,"c":1},{"g":"H","t":1.1,"s":0.666},{"g":"H","t":1.2,"s":0.666,"c":1},{"g":"H","t":1.3,"s":0.655},{"g":"H","t":1.5,"s":0.634},{"g":"H","t":1.7,"s":0.634,"c":1},{"g":"H","t":1.8,"s":0.609},{"g":"H","t":2.0,"s":0.609,"c":1},{"g":"H","t":2.1,"s":0.595},{"g":"H","t":2.3,"s":0.57},{"g":"H","t":2.43,"s":0.53},{"g":"H","t":2.5,"s":0.53,"c":1},{"g":"H","t":2.6,"s":0.5},{"g":"H","t":2.8,"s":0.4625},{"g":"H","t":3.0,"s":0.45},{"g":"H","t":3.08,"s":0.406},{"g":"H","t":3.6,"s":0.406,"c":1},{"g":"H","t":3.75,"s":0.375},{"g":"H","t":3.85,"s":0.331},{"g":"H","t":4.1,"s":0.3},{"g":"H","t":4.22,"s":0.25},{"g":"H","t":4.4,"s":0.25,"c":1},{"g":"H","t":4.7,"s":0.25,"c":1},{"g":"H","t":6.8,"s":0.19},{"g":"H","t":6.9,"s":0.125},{"g":"H","t":8.81,"s":0.066},{"g":"H","t":9.47,"s":0.066,"c":1},
{"g":"L","t":0,"s":1},{"g":"L","t":0.1,"s":0.985},{"g":"L","t":0.2,"s":0.985,"c":1},{"g":"L","t":0.3,"s":0.975},{"g":"L","t":0.5,"s":0.975,"c":1},{"g":"L","t":0.6,"s":0.97},{"g":"L","t":0.7,"s":0.97,"c":1},{"g":"L","t":0.8,"s":0.955},{"g":"L","t":0.9,"s":0.935},{"g":"L","t":1.0,"s":0.925},{"g":"L","t":1.1,"s":0.925,"c":1},{"g":"L","t":1.2,"s":0.925,"c":1},{"g":"L","t":1.3,"s":0.91},{"g":"L","t":1.4,"s":0.91,"c":1},{"g":"L","t":1.5,"s":0.9},{"g":"L","t":1.55,"s":0.9,"c":1},{"g":"L","t":1.6,"s":0.885},{"g":"L","t":1.7,"s":0.84},{"g":"L","t":1.8,"s":0.81},{"g":"L","t":1.9,"s":0.78},{"g":"L","t":2.1,"s":0.75},{"g":"L","t":2.2,"s":0.75,"c":1},{"g":"L","t":2.3,"s":0.712},{"g":"L","t":2.4,"s":0.712,"c":1},{"g":"L","t":2.5,"s":0.69},{"g":"L","t":2.7,"s":0.67},{"g":"L","t":2.8,"s":0.653},{"g":"L","t":2.9,"s":0.653,"c":1},{"g":"L","t":3.1,"s":0.653,"c":1},{"g":"L","t":3.3,"s":0.645},{"g":"L","t":3.4,"s":0.615},{"g":"L","t":3.5,"s":0.59},{"g":"L","t":3.8,"s":0.572},{"g":"L","t":3.9,"s":0.572,"c":1},{"g":"L","t":4.1,"s":0.572,"c":1},{"g":"L","t":4.3,"s":0.56},{"g":"L","t":4.5,"s":0.52},{"g":"L","t":4.7,"s":0.503},{"g":"L","t":4.8,"s":0.503,"c":1},{"g":"L","t":5.0,"s":0.503,"c":1},{"g":"L","t":5.2,"s":0.503,"c":1},{"g":"L","t":5.61,"s":0.425},{"g":"L","t":6.5,"s":0.425,"c":1},{"g":"L","t":6.65,"s":0.425,"c":1},{"g":"L","t":6.78,"s":0.37},{"g":"L","t":6.9,"s":0.281},{"g":"L","t":7.6,"s":0.281,"c":1},{"g":"L","t":8.52,"s":0.1875},{"g":"L","t":9.2,"s":0.1875,"c":1},{"g":"L","t":10.05,"s":0.1875,"c":1}
],
"M": [
{"g":"H","t":0,"s":1},{"g":"H","t":0.1,"s":0.97},{"g":"H","t":0.2,"s":0.93},{"g":"H","t":0.3,"s":0.89},{"g":"H","t":0.5,"s":0.84},{"g":"H","t":0.6,"s":0.84,"c":1},{"g":"H","t":0.7,"s":0.78},{"g":"H","t":0.9,"s":0.72},{"g":"H","t":1.1,"s":0.66},{"g":"H","t":1.2,"s":0.66,"c":1},{"g":"H","t":1.3,"s":0.62},{"g":"H","t":1.5,"s":0.59},{"g":"H","t":1.6,"s":0.59,"c":1},{"g":"H","t":1.8,"s":0.55},{"g":"H","t":1.9,"s":0.55,"c":1},{"g":"H","t":2.1,"s":0.51},{"g":"H","t":2.2,"s":0.51,"c":1},{"g":"H","t":2.4,"s":0.47},{"g":"H","t":2.8,"s":0.44},{"g":"H","t":3.0,"s":0.44,"c":1},{"g":"H","t":3.3,"s":0.41},{"g":"H","t":3.6,"s":0.41,"c":1},{"g":"H","t":4.3,"s":0.4},{"g":"H","t":4.6,"s":0.4,"c":1},{"g":"H","t":5.0,"s":0.4,"c":1},{"g":"H","t":6.8,"s":0.22},{"g":"H","t":6.95,"s":0.2},{"g":"H","t":9.0,"s":0.1},{"g":"H","t":9.5,"s":0.1,"c":1},
{"g":"L","t":0,"s":1},{"g":"L","t":0.2,"s":0.99},{"g":"L","t":0.3,"s":0.99,"c":1},{"g":"L","t":0.5,"s":0.97},{"g":"L","t":0.6,"s":0.97,"c":1},{"g":"L","t":0.8,"s":0.95},{"g":"L","t":0.9,"s":0.95,"c":1},{"g":"L","t":1.0,"s":0.92},{"g":"L","t":1.1,"s":0.92,"c":1},{"g":"L","t":1.3,"s":0.9},{"g":"L","t":1.4,"s":0.9,"c":1},{"g":"L","t":1.6,"s":0.87},{"g":"L","t":1.7,"s":0.87,"c":1},{"g":"L","t":1.9,"s":0.82},{"g":"L","t":2.0,"s":0.82,"c":1},{"g":"L","t":2.2,"s":0.78},{"g":"L","t":2.3,"s":0.78,"c":1},{"g":"L","t":2.5,"s":0.75},{"g":"L","t":2.6,"s":0.75,"c":1},{"g":"L","t":2.8,"s":0.72},{"g":"L","t":3.0,"s":0.72,"c":1},{"g":"L","t":3.2,"s":0.69},{"g":"L","t":3.4,"s":0.69,"c":1},{"g":"L","t":3.6,"s":0.66},{"g":"L","t":3.8,"s":0.66,"c":1},{"g":"L","t":4.0,"s":0.63},{"g":"L","t":4.2,"s":0.63,"c":1},{"g":"L","t":4.5,"s":0.6},{"g":"L","t":4.7,"s":0.6,"c":1},{"g":"L","t":5.0,"s":0.56},{"g":"L","t":5.3,"s":0.56,"c":1},{"g":"L","t":5.7,"s":0.52},{"g":"L","t":6.0,"s":0.52,"c":1},{"g":"L","t":6.3,"s":0.52,"c":1},{"g":"L","t":6.7,"s":0.48},{"g":"L","t":6.9,"s":0.4},{"g":"L","t":7.5,"s":0.4,"c":1},{"g":"L","t":8.5,"s":0.31},{"g":"L","t":9.3,"s":0.31,"c":1},{"g":"L","t":10.05,"s":0.31,"c":1}
]
},
"spacing": 25.6,
"resolve": {"scale": {"color": "independent"}, "legend": {"color": "independent"}},
"vconcat": [
{"spacing": 17.6, "resolve": {"scale": {"color": "independent"}, "legend": {"color": "independent"}},
 "vconcat": [
  {"hconcat": [
   {"width": 214, "height": 159.5, "title": {"text": "A", "dx": -34, "offset": -1}, "data": {"name": "A"},
    "encoding": {"x": {"field": "t", "type": "quantitative", "scale": {"domain": [-0.5, 10.5], "nice": false, "zero": false}, "axis": {"values": [0,1,2,3,4,5,6,7,8,9,10], "title": "Time(years)"}},
     "y": {"field": "s", "type": "quantitative", "scale": {"domain": [-0.05, 1.05], "nice": false, "zero": false}, "axis": {"values": [0,0.25,0.5,0.75,1], "format": ".2f", "title": "Survival probability"}},
     "color": {"field": "g", "type": "nominal", "scale": {"domain": ["H","L"], "range": ["#E7B800","#2E9FDF"]}, "legend": {"title": "Age>=65", "labelExpr": "datum.value == 'H' ? 'High risk(n=48)' : 'Low risk(n=73)'", "legendX": 9, "legendY": -25.75}}},
    "layer": [
     {"mark": {"type": "line", "interpolate": "step-after", "strokeWidth": 1.1}},
     {"transform": [{"filter": "datum.c == 1"}], "mark": {"type": "point", "shape": "M-1,0H1M0,-1V1", "size": 22, "strokeWidth": 0.9, "filled": false, "opacity": 1}},
     {"data": {"values": [{"t": 0.19, "s": 0.2, "p": "p=0.026"}]}, "mark": {"type": "text", "align": "left", "baseline": "middle", "fontSize": 12}, "encoding": {"text": {"field": "p"}, "color": {"value": "#000"}}}
    ]},
   {"width": 216, "height": 159.5, "title": {"text": "B", "dx": -20, "offset": -1}, "data": {"name": "B"},
    "encoding": {"x": {"field": "t", "type": "quantitative", "scale": {"domain": [-0.5, 10.5], "nice": false, "zero": false}, "axis": {"values": [0,1,2,3,4,5,6,7,8,9,10], "title": "Time(years)"}},
     "y": {"field": "s", "type": "quantitative", "scale": {"domain": [-0.05, 1.05], "nice": false, "zero": false}, "axis": {"values": [0,0.25,0.5,0.75,1], "format": ".2f", "title": "Survival probability"}},
     "color": {"field": "g", "type": "nominal", "scale": {"domain": ["H","L"], "range": ["#E7B800","#2E9FDF"]}, "legend": {"title": "Age<65", "labelExpr": "datum.value == 'H' ? 'High risk(n=75)' : 'Low risk(n=123)'", "legendX": 8.3, "legendY": -25.75}}},
    "layer": [
     {"mark": {"type": "line", "interpolate": "step-after", "strokeWidth": 1.1}},
     {"transform": [{"filter": "datum.c == 1"}], "mark": {"type": "point", "shape": "M-1,0H1M0,-1V1", "size": 22, "strokeWidth": 0.9, "filled": false, "opacity": 1}},
     {"data": {"values": [{"t": 0.22, "s": 0.2, "p": "p=0.002"}]}, "mark": {"type": "text", "align": "left", "baseline": "middle", "fontSize": 12}, "encoding": {"text": {"field": "p"}, "color": {"value": "#000"}}}
    ]},
   {"width": 214, "height": 159.5, "title": {"text": "C", "dx": -7, "offset": -1}, "data": {"name": "C"},
    "encoding": {"x": {"field": "t", "type": "quantitative", "scale": {"domain": [-0.5, 10.5], "nice": false, "zero": false}, "axis": {"values": [0,1,2,3,4,5,6,7,8,9,10], "title": "Time(years)"}},
     "y": {"field": "s", "type": "quantitative", "scale": {"domain": [-0.05, 1.05], "nice": false, "zero": false}, "axis": {"values": [0,0.25,0.5,0.75,1], "format": ".2f", "title": "Survival probability"}},
     "color": {"field": "g", "type": "nominal", "scale": {"domain": ["H","L"], "range": ["#E7B800","#2E9FDF"]}, "legend": {"title": "G1-2", "labelExpr": "datum.value == 'H' ? 'High risk(n=62)' : 'Low risk(n=136)'", "legendX": 14, "legendY": -25.75}}},
    "layer": [
     {"mark": {"type": "line", "interpolate": "step-after", "strokeWidth": 1.1}},
     {"transform": [{"filter": "datum.c == 1"}], "mark": {"type": "point", "shape": "M-1,0H1M0,-1V1", "size": 22, "strokeWidth": 0.9, "filled": false, "opacity": 1}},
     {"data": {"values": [{"t": 0.2, "s": 0.2, "p": "p=0.002"}]}, "mark": {"type": "text", "align": "left", "baseline": "middle", "fontSize": 12}, "encoding": {"text": {"field": "p"}, "color": {"value": "#000"}}}
    ]}
  ], "spacing": 55, "bounds": "flush", "resolve": {"scale": {"color": "independent"}, "legend": {"color": "independent"}}},
  {"hconcat": [
   {"width": 208, "height": 159.5, "title": {"text": "D", "dx": -34, "offset": -5}, "data": {"name": "D"},
    "encoding": {"x": {"field": "t", "type": "quantitative", "scale": {"domain": [-0.5, 10.5], "nice": false, "zero": false}, "axis": {"values": [0,1,2,3,4,5,6,7,8,9,10], "title": "Time(years)"}},
     "y": {"field": "s", "type": "quantitative", "scale": {"domain": [-0.05, 1.05], "nice": false, "zero": false}, "axis": {"values": [0,0.25,0.5,0.75,1], "format": ".2f", "title": "Survival probability"}},
     "color": {"field": "g", "type": "nominal", "scale": {"domain": ["H","L"], "range": ["#E7B800","#2E9FDF"]}, "legend": {"title": "G3-4", "labelExpr": "datum.value == 'H' ? 'High risk(n=61)' : 'Low risk(n=60)'", "legendX": 16, "legendY": -23}}},
    "layer": [
     {"mark": {"type": "line", "interpolate": "step-after", "strokeWidth": 1.1}},
     {"transform": [{"filter": "datum.c == 1"}], "mark": {"type": "point", "shape": "M-1,0H1M0,-1V1", "size": 22, "strokeWidth": 0.9, "filled": false, "opacity": 1}},
     {"data": {"values": [{"t": 0.21, "s": 0.2, "p": "p=0.018"}]}, "mark": {"type": "text", "align": "left", "baseline": "middle", "fontSize": 12}, "encoding": {"text": {"field": "p"}, "color": {"value": "#000"}}}
    ]},
   {"width": 215, "height": 159.5, "title": {"text": "E", "dx": -18.3, "offset": -5}, "data": {"name": "E"},
    "encoding": {"x": {"field": "t", "type": "quantitative", "scale": {"domain": [-0.5, 10.5], "nice": false, "zero": false}, "axis": {"values": [0,1,2,3,4,5,6,7,8,9,10], "title": "Time(years)"}},
     "y": {"field": "s", "type": "quantitative", "scale": {"domain": [-0.05, 1.05], "nice": false, "zero": false}, "axis": {"values": [0,0.25,0.5,0.75,1], "format": ".2f", "title": "Survival probability"}},
     "color": {"field": "g", "type": "nominal", "scale": {"domain": ["H","L"], "range": ["#E7B800","#2E9FDF"]}, "legend": {"title": "Stage 1-2", "labelExpr": "datum.value == 'H' ? 'High risk(n=86)' : 'Low risk(n=150)'", "legendX": 3.3, "legendY": -23}}},
    "layer": [
     {"mark": {"type": "line", "interpolate": "step-after", "strokeWidth": 1.1}},
     {"transform": [{"filter": "datum.c == 1"}], "mark": {"type": "point", "shape": "M-1,0H1M0,-1V1", "size": 22, "strokeWidth": 0.9, "filled": false, "opacity": 1}},
     {"data": {"values": [{"t": 0.21, "s": 0.2, "p": "p=0.005"}]}, "mark": {"type": "text", "align": "left", "baseline": "middle", "fontSize": 12}, "encoding": {"text": {"field": "p"}, "color": {"value": "#000"}}}
    ]},
   {"width": 211, "height": 159.5, "title": {"text": "F", "dx": -11, "offset": -5}, "data": {"name": "F"},
    "encoding": {"x": {"field": "t", "type": "quantitative", "scale": {"domain": [-0.5, 10.5], "nice": false, "zero": false}, "axis": {"values": [0,1,2,3,4,5,6,7,8,9,10], "title": "Time(years)"}},
     "y": {"field": "s", "type": "quantitative", "scale": {"domain": [-0.05, 1.05], "nice": false, "zero": false}, "axis": {"values": [0,0.25,0.5,0.75,1], "format": ".2f", "title": "Survival probability"}},
     "color": {"field": "g", "type": "nominal", "scale": {"domain": ["H","L"], "range": ["#E7B800","#2E9FDF"]}, "legend": {"title": "Stage 3-4", "labelExpr": "datum.value == 'H' ? 'High risk(n=37)' : 'Low risk(n=46)'", "legendX": 7.3, "legendY": -23}}},
    "layer": [
     {"mark": {"type": "line", "interpolate": "step-after", "strokeWidth": 1.1}},
     {"transform": [{"filter": "datum.c == 1"}], "mark": {"type": "point", "shape": "M-1,0H1M0,-1V1", "size": 22, "strokeWidth": 0.9, "filled": false, "opacity": 1}},
     {"data": {"values": [{"t": 0.23, "s": 0.2, "p": "p=0.015"}]}, "mark": {"type": "text", "align": "left", "baseline": "middle", "fontSize": 12}, "encoding": {"text": {"field": "p"}, "color": {"value": "#000"}}}
    ]}
  ], "spacing": 60, "bounds": "flush", "resolve": {"scale": {"color": "independent"}, "legend": {"color": "independent"}}}
 ]},
{"spacing": 31.4, "resolve": {"scale": {"color": "independent"}, "legend": {"color": "independent"}},
 "vconcat": [
  {"hconcat": [
   {"width": 195.7, "height": 158, "title": {"text": "G", "dx": -34, "offset": -1.3}, "data": {"name": "G"},
    "encoding": {"x": {"field": "t", "type": "quantitative", "scale": {"domain": [-0.5, 10.5], "nice": false, "zero": false}, "axis": {"values": [0,1,2,3,4,5,6,7,8,9,10], "title": "Time(years)"}},
     "y": {"field": "s", "type": "quantitative", "scale": {"domain": [-0.05, 1.05], "nice": false, "zero": false}, "axis": {"values": [0,0.25,0.5,0.75,1], "format": ".2f", "title": "Survival probability"}},
     "color": {"field": "g", "type": "nominal", "scale": {"domain": ["H","L"], "range": ["#E7B800","#2E9FDF"]}, "legend": {"title": "Alcoholic liver disease", "labelExpr": "datum.value == 'H' ? 'High risk(n=41)' : 'Low risk(n=70)'", "legendX": -20.3, "legendY": -24}}},
    "layer": [
     {"mark": {"type": "line", "interpolate": "step-after", "strokeWidth": 1.1}},
     {"transform": [{"filter": "datum.c == 1"}], "mark": {"type": "point", "shape": "M-1,0H1M0,-1V1", "size": 22, "strokeWidth": 0.9, "filled": false, "opacity": 1}},
     {"data": {"values": [{"t": 0.19, "s": 0.193, "p": "p=0.002"}]}, "mark": {"type": "text", "align": "left", "baseline": "middle", "fontSize": 12}, "encoding": {"text": {"field": "p"}, "color": {"value": "#000"}}}
    ]},
   {"width": 206, "height": 158, "title": {"text": "H", "dx": -19, "offset": -1.3}, "data": {"name": "H"},
    "encoding": {"x": {"field": "t", "type": "quantitative", "scale": {"domain": [-0.4, 8.4], "nice": false, "zero": false}, "axis": {"values": [0,1,2,3,4,5,6,7,8], "title": "Time(years)"}},
     "y": {"field": "s", "type": "quantitative", "scale": {"domain": [-0.05, 1.05], "nice": false, "zero": false}, "axis": {"values": [0,0.25,0.5,0.75,1], "format": ".2f", "title": "Survival probability"}},
     "color": {"field": "g", "type": "nominal", "scale": {"domain": ["H","L"], "range": ["#E7B800","#2E9FDF"]}, "legend": {"title": "NAFLD", "labelExpr": "datum.value == 'H' ? 'High risk(n=50)' : 'Low risk(n=70)'", "legendX": 12, "legendY": -24}}},
    "layer": [
     {"mark": {"type": "line", "interpolate": "step-after", "strokeWidth": 1.1}},
     {"transform": [{"filter": "datum.c == 1"}], "mark": {"type": "point", "shape": "M-1,0H1M0,-1V1", "size": 22, "strokeWidth": 0.9, "filled": false, "opacity": 1}},
     {"data": {"values": [{"t": 0.16, "s": 0.195, "p": "p=0.013"}]}, "mark": {"type": "text", "align": "left", "baseline": "middle", "fontSize": 12}, "encoding": {"text": {"field": "p"}, "color": {"value": "#000"}}}
    ]},
   {"width": 209, "height": 158, "title": {"text": "I", "dx": -14.7, "offset": -1.3}, "data": {"name": "I"},
    "encoding": {"x": {"field": "t", "type": "quantitative", "scale": {"domain": [-0.5, 10.5], "nice": false, "zero": false}, "axis": {"values": [0,1,2,3,4,5,6,7,8,9,10], "title": "Time(years)"}},
     "y": {"field": "s", "type": "quantitative", "scale": {"domain": [-0.05, 1.05], "nice": false, "zero": false}, "axis": {"values": [0,0.25,0.5,0.75,1], "format": ".2f", "title": "Survival probability"}},
     "color": {"field": "g", "type": "nominal", "scale": {"domain": ["H","L"], "range": ["#E7B800","#2E9FDF"]}, "legend": {"title": "Family history(-)", "labelExpr": "datum.value == 'H' ? 'High risk(n=79)' : 'Low risk(n=115)'", "legendX": -32, "legendY": -24}}},
    "layer": [
     {"mark": {"type": "line", "interpolate": "step-after", "strokeWidth": 1.1}},
     {"transform": [{"filter": "datum.c == 1"}], "mark": {"type": "point", "shape": "M-1,0H1M0,-1V1", "size": 22, "strokeWidth": 0.9, "filled": false, "opacity": 1}},
     {"data": {"values": [{"t": 0.18, "s": 0.19, "p": "p<0.001"}]}, "mark": {"type": "text", "align": "left", "baseline": "middle", "fontSize": 12}, "encoding": {"text": {"field": "p"}, "color": {"value": "#000"}}}
    ]}
  ], "spacing": 73, "bounds": "flush", "resolve": {"scale": {"color": "independent"}, "legend": {"color": "independent"}}},
  {"hconcat": [
   {"width": 148, "height": 117, "title": {"text": "J", "dx": -34, "offset": 0.9}, "data": {"name": "J"},
    "encoding": {"x": {"field": "t", "type": "quantitative", "scale": {"domain": [-0.5, 10.5], "nice": false, "zero": false}, "axis": {"values": [0,1,2,3,4,5,6,7,8,9,10], "title": "Time(years)", "labelFontSize": 7, "titleFontSize": 7.5, "tickSize": 2, "labelPadding": 0.5, "titlePadding": 0.5}},
     "y": {"field": "s", "type": "quantitative", "scale": {"domain": [-0.05, 1.05], "nice": false, "zero": false}, "axis": {"values": [0,0.25,0.5,0.75,1], "format": ".2f", "title": "Survival probability", "labelFontSize": 7, "titleFontSize": 7.5, "tickSize": 2, "labelPadding": 1, "titlePadding": 2.5}},
     "color": {"field": "g", "type": "nominal", "scale": {"domain": ["H","L"], "range": ["#E7B800","#2E9FDF"]}, "legend": {"title": "Male", "labelExpr": "datum.value == 'H' ? 'High risk(n=62)' : 'Low risk(n=137)'", "legendX": 1, "legendY": -18.9, "labelFontSize": 6.8, "titleFontSize": 6.8, "symbolSize": 81, "columnPadding": 2, "labelOffset": 1.5, "titlePadding": 3, "symbolStrokeWidth": 1}}},
    "layer": [
     {"mark": {"type": "line", "interpolate": "step-after", "strokeWidth": 0.9}},
     {"transform": [{"filter": "datum.c == 1"}], "mark": {"type": "point", "shape": "M-1,0H1M0,-1V1", "size": 10, "strokeWidth": 0.8, "filled": false, "opacity": 1}},
     {"data": {"values": [{"t": 0.3, "s": 0.19, "p": "p<0.001"}]}, "mark": {"type": "text", "align": "left", "baseline": "middle", "fontSize": 8.4}, "encoding": {"text": {"field": "p"}, "color": {"value": "#000"}}}
    ]},
   {"width": 157, "height": 117, "title": {"text": "K", "dx": -23, "offset": 0.9}, "data": {"name": "K"},
    "encoding": {"x": {"field": "t", "type": "quantitative", "scale": {"domain": [-0.4, 8.4], "nice": false, "zero": false}, "axis": {"values": [0,1,2,3,4,5,6,7,8], "title": "Time(years)", "labelFontSize": 7, "titleFontSize": 7.5, "tickSize": 2, "labelPadding": 0.5, "titlePadding": 0.5}},
     "y": {"field": "s", "type": "quantitative", "scale": {"domain": [-0.05, 1.05], "nice": false, "zero": false}, "axis": {"values": [0,0.25,0.5,0.75,1], "format": ".2f", "title": "Survival probability", "labelFontSize": 7, "titleFontSize": 7.5, "tickSize": 2, "labelPadding": 1, "titlePadding": 2.5}},
     "color": {"field": "g", "type": "nominal", "scale": {"domain": ["H","L"], "range": ["#E7B800","#2E9FDF"]}, "legend": {"title": "HBV(+)", "labelExpr": "datum.value == 'H' ? 'High risk(n=32)' : 'Low risk(n=43)'", "legendX": 1, "legendY": -18.9, "labelFontSize": 6.8, "titleFontSize": 6.8, "symbolSize": 81, "columnPadding": 2, "labelOffset": 1.5, "titlePadding": 3, "symbolStrokeWidth": 1}}},
    "layer": [
     {"mark": {"type": "line", "interpolate": "step-after", "strokeWidth": 0.9}},
     {"transform": [{"filter": "datum.c == 1"}], "mark": {"type": "point", "shape": "M-1,0H1M0,-1V1", "size": 10, "strokeWidth": 0.8, "filled": false, "opacity": 1}},
     {"data": {"values": [{"t": 0.15, "s": 0.19, "p": "p=0.022"}]}, "mark": {"type": "text", "align": "left", "baseline": "middle", "fontSize": 8.4}, "encoding": {"text": {"field": "p"}, "color": {"value": "#000"}}}
    ]},
   {"width": 155, "height": 117, "title": {"text": "L", "dx": -31, "offset": 0.9}, "data": {"name": "L"},
    "encoding": {"x": {"field": "t", "type": "quantitative", "scale": {"domain": [-0.5, 10.5], "nice": false, "zero": false}, "axis": {"values": [0,1,2,3,4,5,6,7,8,9,10], "title": "Time(years)", "labelFontSize": 7, "titleFontSize": 7.5, "tickSize": 2, "labelPadding": 0.5, "titlePadding": 0.5}},
     "y": {"field": "s", "type": "quantitative", "scale": {"domain": [-0.05, 1.05], "nice": false, "zero": false}, "axis": {"values": [0,0.25,0.5,0.75,1], "format": ".2f", "title": "Survival probability", "labelFontSize": 7, "titleFontSize": 7.5, "tickSize": 2, "labelPadding": 1, "titlePadding": 2.5}},
     "color": {"field": "g", "type": "nominal", "scale": {"domain": ["H","L"], "range": ["#E7B800","#2E9FDF"]}, "legend": {"title": "Non HBV_HCV", "labelExpr": "datum.value == 'H' ? 'High risk(n=83)' : 'Low risk(n=137)'", "legendX": -8.5, "legendY": -18.9, "labelFontSize": 6.8, "titleFontSize": 6.8, "symbolSize": 81, "columnPadding": 2, "labelOffset": 1.5, "titlePadding": 3, "symbolStrokeWidth": 1}}},
    "layer": [
     {"mark": {"type": "line", "interpolate": "step-after", "strokeWidth": 0.9}},
     {"transform": [{"filter": "datum.c == 1"}], "mark": {"type": "point", "shape": "M-1,0H1M0,-1V1", "size": 10, "strokeWidth": 0.8, "filled": false, "opacity": 1}},
     {"data": {"values": [{"t": 0.17, "s": 0.18, "p": "p<0.001"}]}, "mark": {"type": "text", "align": "left", "baseline": "middle", "fontSize": 8.4}, "encoding": {"text": {"field": "p"}, "color": {"value": "#000"}}}
    ]},
   {"width": 154, "height": 117, "title": {"text": "M", "dx": -36, "offset": 0.9}, "data": {"name": "M"},
    "encoding": {"x": {"field": "t", "type": "quantitative", "scale": {"domain": [-0.5, 10.5], "nice": false, "zero": false}, "axis": {"values": [0,1,2,3,4,5,6,7,8,9,10], "title": "Time(years)", "labelFontSize": 7, "titleFontSize": 7.5, "tickSize": 2, "labelPadding": 0.5, "titlePadding": 0.5}},
     "y": {"field": "s", "type": "quantitative", "scale": {"domain": [-0.05, 1.05], "nice": false, "zero": false}, "axis": {"values": [0,0.25,0.5,0.75,1], "format": ".2f", "title": "Survival probability", "labelFontSize": 7, "titleFontSize": 7.5, "tickSize": 2, "labelPadding": 1, "titlePadding": 2.5}},
     "color": {"field": "g", "type": "nominal", "scale": {"domain": ["H","L"], "range": ["#E7B800","#2E9FDF"]}, "legend": {"title": "Radiotherapy(-)", "labelExpr": "datum.value == 'H' ? 'High risk(n=128)' : 'Low risk(n=189)'", "legendX": -30, "legendY": -18.9, "labelFontSize": 6.8, "titleFontSize": 6.8, "symbolSize": 81, "columnPadding": 2, "labelOffset": 1.5, "titlePadding": 3, "symbolStrokeWidth": 1}}},
    "layer": [
     {"mark": {"type": "line", "interpolate": "step-after", "strokeWidth": 0.9}},
     {"transform": [{"filter": "datum.c == 1"}], "mark": {"type": "point", "shape": "M-1,0H1M0,-1V1", "size": 10, "strokeWidth": 0.8, "filled": false, "opacity": 1}},
     {"data": {"values": [{"t": 0.17, "s": 0.19, "p": "p<0.001"}]}, "mark": {"type": "text", "align": "left", "baseline": "middle", "fontSize": 8.4}, "encoding": {"text": {"field": "p"}, "color": {"value": "#000"}}}
    ]}
  ], "spacing": 47, "bounds": "flush", "resolve": {"scale": {"color": "independent"}, "legend": {"color": "independent"}}}
 ]}
]
}
